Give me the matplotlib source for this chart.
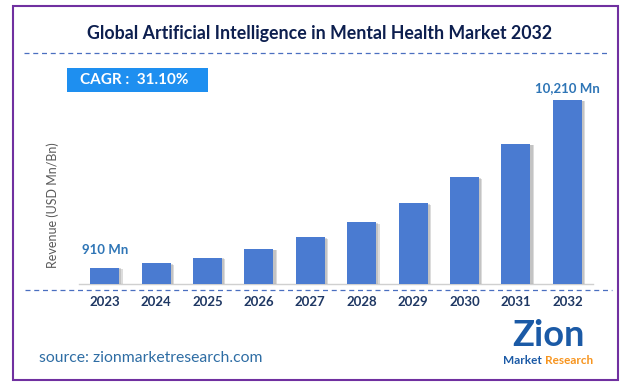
import matplotlib
matplotlib.use("Agg")
import matplotlib.pyplot as plt
import matplotlib.patheffects as pe
from matplotlib.patches import Rectangle
from matplotlib.lines import Line2D

years = ["2023", "2024", "2025", "2026", "2027", "2028", "2029", "2030", "2031", "2032"]
revenue = [910, 1150, 1460, 1940, 2590, 3420, 4480, 5920, 7770, 10210]
first_label = "910 Mn"
last_label = "10,210 Mn"
title = "Global Artificial Intelligence in Mental Health Market 2032"
cagr_text = "CAGR :  31.10%"
ylabel = "Revenue (USD Mn/Bn)"
source = "source: zionmarketresearch.com"

W, H = 626, 385
plt.rcParams['font.family'] = ['Lato', 'DejaVu Sans']
fig = plt.figure(figsize=(W / 100, H / 100), dpi=100)
fig.patch.set_facecolor("white")

def fx(x):
    return x / W

def fy(y):
    return 1 - y / H

# border
fig.add_artist(Rectangle((fx(13), fy(380)), fx(618) - fx(13), fy(6) - fy(380),
                         transform=fig.transFigure, fill=False, edgecolor="#7030a0", linewidth=1.5))

# title
fig.text(fx(320), fy(33), title, ha="center", va="center", fontsize=12.8,
         fontweight="bold", color="#0d1f4f")

# dashed lines
for y, x0, x1 in [(53, 24, 610), (290, 25, 612)]:
    fig.add_artist(Line2D([fx(x0), fx(x1)], [fy(y), fy(y)], transform=fig.transFigure,
                          color="#4a6fc0", linewidth=0.9, linestyle=(0, (4, 3))))

# CAGR box
fig.add_artist(Rectangle((fx(67), fy(92)), fx(208) - fx(67), fy(68) - fy(92),
                         transform=fig.transFigure, facecolor="#1e8ff0", edgecolor="none"))
fig.text(fx(80), fy(80), cagr_text, ha="left", va="center", fontsize=11,
         fontweight="bold", color="white")

# axes
ax = fig.add_axes([fx(79), fy(284), fx(593) - fx(79), fy(95) - fy(284)])
ax.set_facecolor("none")
x = list(range(len(years)))
bars = ax.bar(x, revenue, width=0.565, color="#4a7bd1", zorder=3)
for b in bars:
    b.set_path_effects([pe.SimplePatchShadow(offset=(2.5, -1), shadow_rgbFace="#8c8c8c", alpha=0.3),
                        pe.SimplePatchShadow(offset=(1.5, -0.5), shadow_rgbFace="#8c8c8c", alpha=0.3),
                        pe.Normal()])
ax.set_xlim(-0.5, len(years) - 0.5)
ax.set_ylim(0, 10490)
ax.set_xticks(x)
ax.set_xticklabels(years)
ax.tick_params(axis="x", length=0, pad=9, labelsize=9.5, labelcolor="#1f3864")
for lbl in ax.get_xticklabels():
    lbl.set_fontweight("bold")
ax.set_yticks([])
for s in ["top", "right", "left"]:
    ax.spines[s].set_visible(False)
ax.spines["bottom"].set_color("#d0d0d0")
ax.spines["bottom"].set_linewidth(1)

ax.annotate(first_label, (0, revenue[0]), xytext=(0, 8), textcoords="offset points",
            ha="center", va="bottom", fontsize=9.5, fontweight="bold", color="#2e75b6")
ax.annotate(last_label, (len(years) - 1, revenue[-1]), xytext=(0, 4), textcoords="offset points",
            ha="center", va="bottom", fontsize=9.5, fontweight="bold", color="#2e75b6")

fig.text(fx(53), fy(205), ylabel, rotation=90, ha="center", va="center",
         fontsize=9, color="#595959")

fig.text(fx(39), fy(358), source, ha="left", va="center", fontsize=11.3, color="#2e6da4")

# logo
fig.text(fx(548), fy(336), "Zion", ha="center", va="center", fontsize=26,
         fontweight="bold", color="#1b5aa6")
fig.text(fx(542), fy(360), "Market", ha="right", va="center", fontsize=8.5,
         fontweight="bold", color="#1b5aa6")
fig.text(fx(545), fy(360), "Research", ha="left", va="center", fontsize=8.5,
         fontweight="bold", color="#f7941d")

fig.savefig("out.png", dpi=100, facecolor="white")
